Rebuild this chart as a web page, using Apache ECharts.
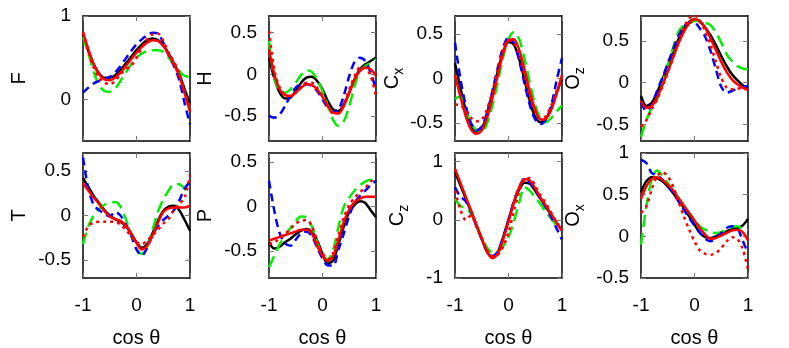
<!DOCTYPE html>
<html>
<head>
<meta charset="utf-8">
<script src="https://cdn.jsdelivr.net/npm/echarts@6/dist/echarts.min.js"></script>
<style>
  html, body { margin: 0; padding: 0; background: #fff; }
  #chart { width: 789px; height: 348px; }
</style>
</head>
<body>
<div id="chart"></div>
<script>
'use strict';

// cos(theta) sample points shared by every curve
var cosTheta = [-1, -0.9, -0.8, -0.7, -0.6, -0.5, -0.4, -0.3, -0.2, -0.1, 0, 0.1, 0.2, 0.3, 0.4, 0.5, 0.6, 0.7, 0.8, 0.9, 1];
var xTicks = [-1, 0, 1];

// F
var fBlack = [0.78, 0.58, 0.42, 0.31, 0.26, 0.26, 0.29, 0.35, 0.43, 0.51, 0.59, 0.66, 0.71, 0.73, 0.71, 0.65, 0.55, 0.43, 0.30, 0.12, -0.05];
var fGreen = [0.75, 0.55, 0.33, 0.17, 0.10, 0.09, 0.13, 0.22, 0.32, 0.42, 0.50, 0.55, 0.58, 0.59, 0.59, 0.57, 0.50, 0.42, 0.34, 0.28, 0.27];
var fBlue = [0.08, 0.14, 0.19, 0.22, 0.24, 0.27, 0.32, 0.40, 0.49, 0.58, 0.66, 0.72, 0.77, 0.80, 0.79, 0.68, 0.53, 0.40, 0.23, -0.05, -0.30];
var fRedDot = [0.80, 0.58, 0.38, 0.26, 0.20, 0.18, 0.22, 0.30, 0.36, 0.40, 0.50, 0.62, 0.72, 0.78, 0.79, 0.70, 0.56, 0.45, 0.32, 0.10, -0.10];
var fRed = [0.81, 0.60, 0.42, 0.30, 0.24, 0.23, 0.26, 0.32, 0.40, 0.48, 0.56, 0.63, 0.68, 0.71, 0.70, 0.64, 0.54, 0.42, 0.28, 0.07, -0.15];

// H
var hBlack = [0.20, -0.05, -0.22, -0.29, -0.28, -0.20, -0.10, -0.04, -0.03, -0.08, -0.18, -0.32, -0.42, -0.44, -0.36, -0.22, -0.06, 0.06, 0.12, 0.16, 0.20];
var hGreen = [0.40, -0.05, -0.20, -0.22, -0.18, -0.10, -0.01, 0.05, 0.03, -0.06, -0.20, -0.38, -0.55, -0.62, -0.56, -0.38, -0.14, 0.04, 0.10, 0.14, 0.18];
var hBlue = [-0.50, -0.52, -0.48, -0.38, -0.26, -0.16, -0.12, -0.12, -0.14, -0.20, -0.30, -0.40, -0.45, -0.42, -0.25, -0.02, 0.15, 0.20, 0.16, 0.02, -0.18];
var hRedDot = [0.52, 0.05, -0.16, -0.24, -0.26, -0.22, -0.15, -0.10, -0.10, -0.16, -0.26, -0.38, -0.47, -0.46, -0.35, -0.18, -0.02, 0.08, 0.08, -0.02, -0.26];
var hRed = [0.30, 0.00, -0.18, -0.25, -0.26, -0.22, -0.16, -0.12, -0.13, -0.18, -0.27, -0.38, -0.46, -0.47, -0.38, -0.22, -0.06, 0.04, 0.08, 0.06, -0.02];

// Cx
var cxBlack = [0.17, -0.10, -0.35, -0.53, -0.60, -0.56, -0.40, -0.17, 0.08, 0.30, 0.41, 0.38, 0.22, -0.02, -0.26, -0.43, -0.49, -0.45, -0.33, -0.16, 0.00];
var cxGreen = [-0.23, -0.20, -0.34, -0.50, -0.58, -0.60, -0.50, -0.30, -0.04, 0.24, 0.44, 0.52, 0.44, 0.22, -0.05, -0.30, -0.45, -0.49, -0.44, -0.37, -0.30];
var cxBlue = [0.40, 0.00, -0.30, -0.50, -0.58, -0.54, -0.38, -0.14, 0.12, 0.35, 0.46, 0.40, 0.20, -0.06, -0.30, -0.46, -0.51, -0.46, -0.30, -0.02, 0.23];
var cxRedDot = [-0.29, -0.30, -0.36, -0.44, -0.48, -0.46, -0.34, -0.14, 0.10, 0.32, 0.43, 0.40, 0.26, 0.02, -0.22, -0.38, -0.45, -0.42, -0.30, -0.14, 0.00];
var cxRed = [0.04, -0.20, -0.42, -0.57, -0.62, -0.58, -0.44, -0.22, 0.04, 0.28, 0.43, 0.44, 0.32, 0.10, -0.15, -0.35, -0.46, -0.45, -0.35, -0.17, 0.04];

// Oz
var ozBlack = [-0.16, -0.28, -0.24, -0.12, 0.04, 0.20, 0.36, 0.52, 0.65, 0.73, 0.76, 0.73, 0.66, 0.57, 0.45, 0.32, 0.20, 0.10, 0.03, -0.03, -0.07];
var ozGreen = [-0.65, -0.45, -0.30, -0.20, 0.00, 0.22, 0.42, 0.61, 0.69, 0.72, 0.74, 0.75, 0.72, 0.69, 0.60, 0.48, 0.34, 0.26, 0.20, 0.17, 0.16];
var ozBlue = [-0.24, -0.34, -0.26, -0.10, 0.06, 0.23, 0.40, 0.56, 0.67, 0.72, 0.72, 0.65, 0.55, 0.38, 0.16, -0.05, -0.12, -0.10, -0.07, -0.05, -0.04];
var ozRedDot = [-0.53, -0.45, -0.32, -0.20, -0.05, 0.12, 0.30, 0.50, 0.66, 0.77, 0.81, 0.74, 0.62, 0.45, 0.25, 0.06, -0.06, -0.08, -0.07, -0.07, -0.08];
var ozRed = [-0.22, -0.30, -0.28, -0.18, -0.03, 0.13, 0.30, 0.47, 0.61, 0.71, 0.76, 0.74, 0.66, 0.53, 0.39, 0.25, 0.13, 0.04, -0.02, -0.06, -0.09];

// T
var tBlack = [0.42, 0.32, 0.22, 0.14, 0.06, 0.00, -0.04, -0.07, -0.12, -0.20, -0.30, -0.36, -0.32, -0.20, -0.06, 0.05, 0.10, 0.11, 0.06, -0.05, -0.17];
var tGreen = [-0.32, -0.12, 0.00, 0.07, 0.12, 0.14, 0.15, 0.10, -0.04, -0.22, -0.38, -0.43, -0.35, -0.16, 0.04, 0.18, 0.28, 0.35, 0.35, 0.30, 0.24];
var tBlue = [0.65, 0.30, 0.12, 0.06, 0.02, -0.01, 0.04, 0.00, -0.10, -0.22, -0.38, -0.45, -0.36, -0.22, -0.12, -0.05, 0.00, 0.06, 0.17, 0.30, 0.38];
var tRedDot = [-0.24, -0.12, -0.08, -0.07, -0.07, -0.07, -0.07, -0.10, -0.16, -0.23, -0.30, -0.32, -0.28, -0.22, -0.16, -0.09, -0.04, 0.06, 0.13, 0.20, 0.45];
var tRed = [0.36, 0.28, 0.20, 0.13, 0.05, -0.01, -0.04, -0.06, -0.11, -0.20, -0.31, -0.38, -0.34, -0.22, -0.08, 0.04, 0.08, 0.09, 0.09, 0.09, 0.11];

// P
var pBlack = [-0.40, -0.47, -0.45, -0.40, -0.36, -0.31, -0.27, -0.25, -0.28, -0.38, -0.53, -0.64, -0.60, -0.42, -0.22, -0.06, 0.02, 0.06, 0.04, -0.04, -0.12];
var pGreen = [-0.68, -0.55, -0.42, -0.33, -0.24, -0.16, -0.11, -0.12, -0.22, -0.40, -0.55, -0.59, -0.48, -0.22, 0.00, 0.10, 0.18, 0.24, 0.28, 0.30, 0.25];
var pBlue = [0.29, -0.05, -0.30, -0.41, -0.44, -0.37, -0.30, -0.28, -0.33, -0.46, -0.58, -0.66, -0.66, -0.48, -0.30, -0.10, 0.04, 0.12, 0.18, 0.24, 0.29];
var pRedDot = [-0.42, -0.40, -0.36, -0.31, -0.25, -0.19, -0.16, -0.15, -0.22, -0.38, -0.52, -0.59, -0.52, -0.32, -0.12, 0.02, 0.10, 0.16, 0.21, 0.28, 0.32];
var pRed = [-0.38, -0.36, -0.34, -0.32, -0.30, -0.28, -0.26, -0.26, -0.30, -0.44, -0.55, -0.61, -0.55, -0.37, -0.17, -0.03, 0.05, 0.09, 0.11, 0.11, 0.11];

// Cz
var czBlack = [0.82, 0.60, 0.37, 0.14, -0.10, -0.33, -0.55, -0.63, -0.55, -0.30, 0.00, 0.30, 0.52, 0.64, 0.62, 0.50, 0.36, 0.22, 0.08, -0.06, -0.18];
var czGreen = [0.36, 0.24, 0.20, 0.10, -0.10, -0.30, -0.48, -0.56, -0.55, -0.45, -0.30, -0.03, 0.30, 0.56, 0.50, 0.38, 0.27, 0.13, 0.02, -0.10, -0.19];
var czBlue = [0.56, 0.40, 0.32, 0.14, -0.10, -0.33, -0.54, -0.62, -0.55, -0.30, 0.00, 0.32, 0.56, 0.71, 0.64, 0.50, 0.36, 0.21, 0.04, -0.15, -0.34];
var czRedDot = [0.50, 0.18, 0.00, 0.08, -0.12, -0.32, -0.52, -0.63, -0.60, -0.46, -0.22, 0.15, 0.48, 0.70, 0.72, 0.58, 0.42, 0.28, 0.12, -0.04, -0.19];
var czRed = [0.88, 0.64, 0.40, 0.16, -0.08, -0.32, -0.55, -0.66, -0.58, -0.34, -0.03, 0.30, 0.56, 0.70, 0.68, 0.54, 0.38, 0.24, 0.10, -0.05, -0.18];

// Ox
var oxBlack = [0.53, 0.66, 0.71, 0.70, 0.66, 0.60, 0.52, 0.43, 0.34, 0.24, 0.14, 0.04, -0.01, -0.02, 0.00, 0.03, 0.06, 0.09, 0.10, 0.13, 0.21];
var oxGreen = [-0.10, 0.36, 0.68, 0.79, 0.73, 0.64, 0.55, 0.46, 0.37, 0.28, 0.20, 0.12, 0.08, 0.05, 0.04, 0.05, 0.08, 0.11, 0.12, 0.09, 0.08];
var oxBlue = [0.92, 0.88, 0.76, 0.73, 0.68, 0.60, 0.52, 0.42, 0.32, 0.22, 0.13, 0.05, -0.03, -0.06, -0.02, 0.04, 0.10, 0.12, 0.10, -0.05, -0.20];
var oxRedDot = [0.28, 0.36, 0.56, 0.72, 0.77, 0.72, 0.60, 0.42, 0.24, 0.08, -0.06, -0.17, -0.21, -0.22, -0.20, -0.14, -0.06, -0.01, -0.03, -0.15, -0.40];
var oxRed = [0.45, 0.60, 0.69, 0.71, 0.68, 0.62, 0.55, 0.46, 0.37, 0.28, 0.19, 0.10, 0.02, -0.03, -0.02, 0.01, 0.04, 0.07, 0.08, 0.05, -0.05];

// y labels and tick values
var yNames = ['F', 'H', 'C{s|x}', 'O{s|z}', 'T', 'P', 'C{s|z}', 'O{s|x}'];
var yMin = [-0.5, -0.8, -0.7, -0.7, -0.7, -0.8, -1, -0.5];
var yMax = [1, 0.7, 0.7, 0.8, 0.7, 0.6, 1.15, 1];
var yTicks = [[0, 1], [-0.5, 0, 0.5], [-0.5, 0, 0.5], [-0.5, 0, 0.5],
              [-0.5, 0, 0.5], [-0.5, 0, 0.5], [-1, 0, 1], [-0.5, 0, 0.5, 1]];

var curves = [
    [fBlack, fGreen, fBlue, fRedDot, fRed],
    [hBlack, hGreen, hBlue, hRedDot, hRed],
    [cxBlack, cxGreen, cxBlue, cxRedDot, cxRed],
    [ozBlack, ozGreen, ozBlue, ozRedDot, ozRed],
    [tBlack, tGreen, tBlue, tRedDot, tRed],
    [pBlack, pGreen, pBlue, pRedDot, pRed],
    [czBlack, czGreen, czBlue, czRedDot, czRed],
    [oxBlack, oxGreen, oxBlue, oxRedDot, oxRed]
];

var FONT = 'Liberation Sans';
var lefts = [83, 269, 455, 641];
var tops = [16, 153];
var styles = [
    { color: '#000000', type: 'solid' },
    { color: '#00ee00', type: [12, 6] },
    { color: '#0000ff', type: [8, 5] },
    { color: '#ff0000', type: [3, 4] },
    { color: '#ff0000', type: 'solid' }
];

var grids = [], xAxes = [], yAxes = [], series = [];

var zip = function (ys) {
    return cosTheta.map(function (x, i) { return [x, ys[i]]; });
};

for (var p = 0; p < 8; p++) {
    var row = Math.floor(p / 4), col = p % 4;
    grids.push({
        left: lefts[col], top: tops[row], width: 107, height: 125,
        containLabel: false, outerBoundsMode: 'none'
    });
    var tick = { show: true, inside: true, length: 5, lineStyle: { color: '#777', width: 1 } };
    var line = { show: true, onZero: false, lineStyle: { color: '#000', width: 1.5 } };
    xAxes.push({
        type: 'value', gridIndex: p, position: 'bottom', min: -1, max: 1,
        axisLine: line, splitLine: { show: false },
        axisTick: Object.assign({ customValues: xTicks }, tick),
        axisLabel: {
            show: row === 1, customValues: xTicks, margin: 18,
            color: '#000', fontSize: 19, fontFamily: FONT
        },
        name: row === 1 ? 'cos θ' : '', nameLocation: 'middle', nameGap: 50,
        nameTextStyle: { color: '#000', fontSize: 20, fontFamily: FONT }
    });
    xAxes.push({
        type: 'value', gridIndex: p, position: 'top', min: -1, max: 1,
        axisLine: line, splitLine: { show: false },
        axisTick: Object.assign({ customValues: xTicks }, tick),
        axisLabel: { show: false }
    });
    yAxes.push({
        type: 'value', gridIndex: p, position: 'left', min: yMin[p], max: yMax[p],
        axisLine: line, splitLine: { show: false },
        axisTick: Object.assign({ customValues: yTicks[p] }, tick),
        axisLabel: {
            customValues: yTicks[p], margin: 12,
            color: '#000', fontSize: 19, fontFamily: FONT
        },
        name: yNames[p], nameLocation: 'middle', nameGap: col === 2 ? 44 : 54,
        nameTextStyle: {
            color: '#000', fontSize: 20, fontFamily: FONT,
            rich: { s: { fontSize: 14, fontFamily: FONT, color: '#000', padding: [14, 0, 0, 0] } }
        }
    });
    yAxes.push({
        type: 'value', gridIndex: p, position: 'right', min: yMin[p], max: yMax[p],
        axisLine: line, splitLine: { show: false },
        axisTick: Object.assign({ customValues: yTicks[p] }, tick),
        axisLabel: { show: false }
    });
    curves[p].forEach(function (ys, k) {
        series.push({
            type: 'line', xAxisIndex: 2 * p, yAxisIndex: 2 * p,
            data: zip(ys), smooth: 0.3, symbol: 'none', silent: true,
            lineStyle: { color: styles[k].color, type: styles[k].type, width: 2.5 },
            z: 2 + k
        });
    });
}

var chart = echarts.init(document.getElementById('chart'), null, { renderer: 'canvas' });
chart.setOption({
    animation: false,
    backgroundColor: '#ffffff',
    grid: grids,
    xAxis: xAxes,
    yAxis: yAxes,
    series: series
});
</script>
</body>
</html>
